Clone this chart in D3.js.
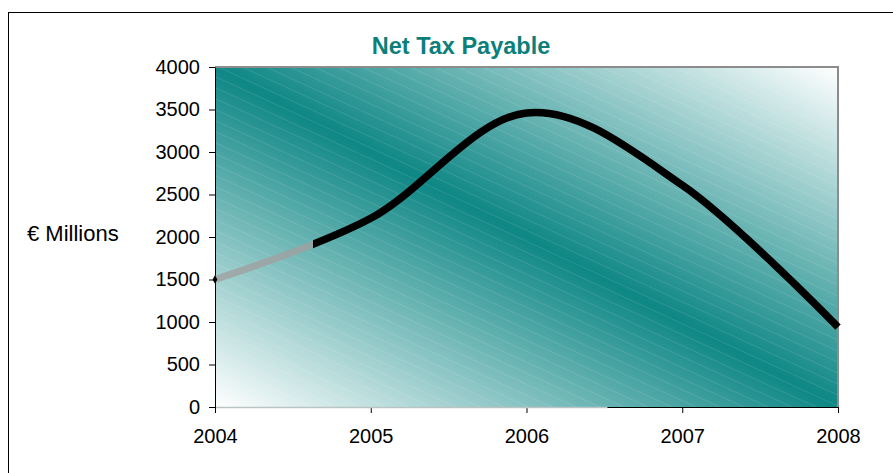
<!DOCTYPE html>
<html>
<head>
<meta charset="utf-8">
<script src="https://cdn.jsdelivr.net/npm/d3@7"></script>
<style>
  body { margin: 0; background: #fff; }
  text { font-family: Arial, 'Liberation Sans', sans-serif; }
</style>
</head>
<body>
<div class="svg"></div>
<script>
const width = 893
const height = 473
const plotLeft = 215
const plotRight = 838
const plotTop = 67
const plotBottom = 407

// Data
const years = [2004, 2005, 2006, 2007, 2008]
const tax = [1500, 2220, 3460, 2610, 940]
const yTicks = [0, 500, 1000, 1500, 2000, 2500, 3000, 3500, 4000]

const svg = d3
  .select('.svg')
  .append('svg')
  .attr('width', width)
  .attr('height', height)

// outer chart frame (runs off the page on the right and bottom)
svg
  .append('rect')
  .attr('x', 8.5)
  .attr('y', 12.5)
  .attr('width', 1000)
  .attr('height', 1000)
  .attr('fill', '#fff')
  .attr('stroke', '#000')
  .attr('stroke-width', 1)

const xScale = d3.scaleLinear().domain([2004, 2008]).range([plotLeft, plotRight])
const yScale = d3.scaleLinear().domain([0, 4000]).range([plotBottom, plotTop])

// background gradient, teal along the top-left to bottom-right diagonal
const defs = svg.append('defs')
const grad = defs
  .append('linearGradient')
  .attr('id', 'bg')
  .attr('x1', 0)
  .attr('y1', 1)
  .attr('x2', 1)
  .attr('y2', 0)
grad.append('stop').attr('offset', 0).attr('stop-color', '#ffffff')
grad.append('stop').attr('offset', 0.5).attr('stop-color', '#0e8785')
grad.append('stop').attr('offset', 1).attr('stop-color', '#ffffff')

const hatch = defs
  .append('pattern')
  .attr('id', 'hatch')
  .attr('patternUnits', 'userSpaceOnUse')
  .attr('width', 24)
  .attr('height', 11)
hatch
  .append('path')
  .attr('d', 'M0,0 L24,11')
  .attr('stroke', '#ffffff')
  .attr('stroke-opacity', 0.1)
  .attr('stroke-width', 1)

svg
  .append('rect')
  .attr('x', plotLeft)
  .attr('y', plotTop)
  .attr('width', plotRight - plotLeft)
  .attr('height', plotBottom - plotTop)
  .attr('fill', 'url(#bg)')
svg
  .append('rect')
  .attr('x', plotLeft)
  .attr('y', plotTop)
  .attr('width', plotRight - plotLeft)
  .attr('height', plotBottom - plotTop)
  .attr('fill', 'url(#hatch)')

// plot border, grey on top and right
svg
  .append('path')
  .attr('d', `M${plotLeft},${plotTop} H${plotRight} V${plotBottom}`)
  .attr('fill', 'none')
  .attr('stroke', '#8c8c8c')
  .attr('stroke-width', 2)

// Axes
const xAxis = d3
  .axisBottom(xScale)
  .tickValues(years)
  .tickFormat(d3.format('d'))
  .tickSizeInner(6)
  .tickSizeOuter(0)
  .tickPadding(16)

const yAxis = d3
  .axisLeft(yScale)
  .tickValues(yTicks)
  .tickFormat(d3.format('d'))
  .tickSizeInner(6)
  .tickSizeOuter(0)
  .tickPadding(9)

svg
  .append('g')
  .attr('id', 'x-axis')
  .attr('transform', 'translate(0, ' + plotBottom + ')')
  .call(xAxis)

svg
  .append('g')
  .attr('id', 'y-axis')
  .attr('transform', 'translate(' + plotLeft + ', 0)')
  .call(yAxis)

svg.selectAll('.tick text').attr('font-size', 20).attr('fill', '#000')
svg.selectAll('.domain, .tick line').attr('stroke', '#000')

// lighter part of the bottom axis line
svg
  .append('line')
  .attr('x1', xScale(2004) + 1)
  .attr('x2', xScale(2006.52))
  .attr('y1', plotBottom + 0.5)
  .attr('y2', plotBottom + 0.5)
  .attr('stroke', '#b9c4c4')
  .attr('stroke-width', 1.5)

// Titles
svg
  .append('text')
  .attr('x', 461)
  .attr('y', 54)
  .attr('text-anchor', 'middle')
  .attr('font-size', 23.5)
  .attr('font-weight', 'bold')
  .attr('fill', '#0d7f7b')
  .text('Net Tax Payable')

svg
  .append('text')
  .attr('x', 27)
  .attr('y', 241)
  .attr('font-size', 22)
  .attr('fill', '#000')
  .text('€ Millions')

// Smoothed line, first stretch drawn lighter
const points = years.map((y, i) => [xScale(y), yScale(tax[i])])
const line = d3.line().curve(d3.curveCardinal.tension(0))
const split = xScale(2004.63)

defs
  .append('clipPath')
  .attr('id', 'clipA')
  .append('rect')
  .attr('x', 0)
  .attr('y', 0)
  .attr('width', split)
  .attr('height', height)
defs
  .append('clipPath')
  .attr('id', 'clipB')
  .append('rect')
  .attr('x', split)
  .attr('y', 0)
  .attr('width', width)
  .attr('height', height)

svg
  .append('path')
  .attr('d', line(points))
  .attr('fill', 'none')
  .attr('stroke', '#a0a0a0')
  .attr('stroke-opacity', 0.8)
  .attr('stroke-width', 7)
  .attr('clip-path', 'url(#clipA)')

svg
  .append('path')
  .attr('d', line(points))
  .attr('fill', 'none')
  .attr('stroke', '#000')
  .attr('stroke-width', 7.5)
  .attr('clip-path', 'url(#clipB)')

// small marker at the first point
svg
  .append('path')
  .attr('d', d3.symbol(d3.symbolDiamond, 20)())
  .attr('transform', `translate(${points[0][0]},${points[0][1]})`)
  .attr('fill', '#000')
</script>
</body>
</html>
